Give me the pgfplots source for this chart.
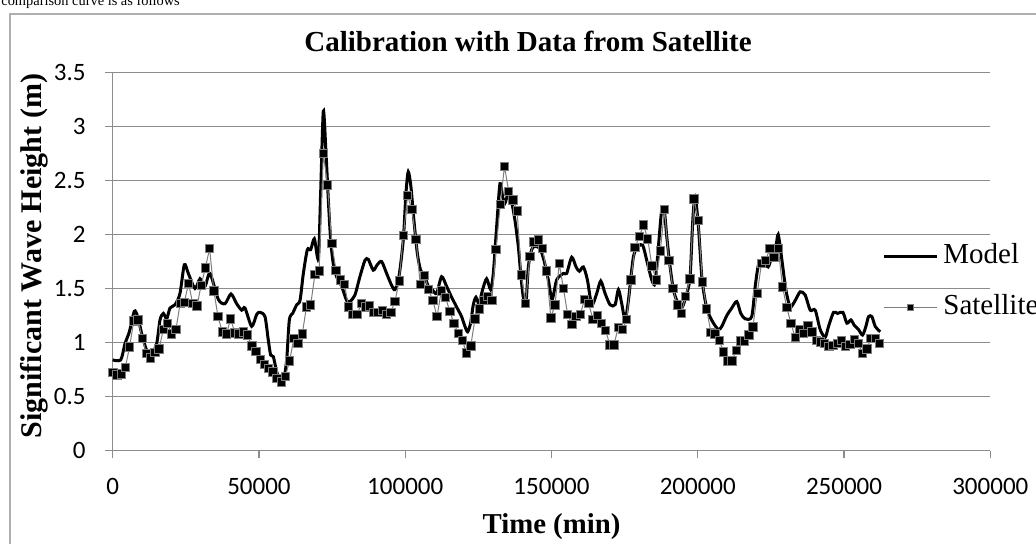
\documentclass[border=0pt]{standalone}
\usepackage{fontspec}
\setmainfont{Liberation Serif}
\newfontfamily\tickfont{Carlito}
\usepackage{pgfplots}
\pgfplotsset{compat=1.18}
\definecolor{gridgray}{RGB}{140,140,140}
\definecolor{framegray}{RGB}{175,175,175}
\definecolor{satgray}{RGB}{125,125,125}

\begin{document}
\begin{tikzpicture}
\path[use as bounding box, clip] (0pt,0pt) rectangle (518pt,271.5pt);
\begin{scope}[x=0.5pt,y=0.5pt]
\draw[framegray, line width=0.75pt] (10,-4) -- (10,529) -- (1044,529);
\node[anchor=base west, inner sep=0pt, font=\fontsize{7.2}{8}\selectfont] at (1,538) {comparison curve is as follows};
\end{scope}
\begin{axis}[
    at={(56.35pt,46.15pt)}, anchor=south west,
    scale only axis, width=438.8pt, height=189.2pt,
    xmin=0, xmax=300000, ymin=0, ymax=3.5,
    xtick={0,50000,100000,150000,200000,250000,300000},
    ytick={0,0.5,1,1.5,2,2.5,3,3.5},
    scaled x ticks=false,
    xticklabel={\pgfmathprintnumber[fixed,precision=0,1000 sep={}]{\tick}},
    /pgf/number format/assume math mode=true,
    axis x line=bottom, axis y line=left,
    axis line style={-, gridgray, line width=0.6pt},
    tick align=outside, major tick length=3.85pt,
    tick style={gridgray, line width=0.6pt},
    ymajorgrids, grid style={gridgray, line width=0.55pt},
    ticklabel style={font=\tickfont\fontsize{12.5}{14}\selectfont},
    xticklabel style={anchor=base, inner sep=0pt, yshift=-18.2pt},
    yticklabel style={anchor=east, inner sep=0pt, xshift=-9.5pt},
    title={Calibration with Data from Satellite},
    title style={at={(0.4732,1.024)}, anchor=base, inner sep=0pt, font=\bfseries\fontsize{14.5}{17}\selectfont},
    xlabel={Time (min)},
    xlabel style={at={(0.5,-0.2175)}, anchor=base, inner sep=0pt, font=\bfseries\fontsize{14.4}{17}\selectfont},
    ylabel={Significant Wave Height (m)},
    ylabel style={at={(-0.0806,0.5145)}, rotate=0, anchor=base, inner sep=0pt, font=\bfseries\fontsize{15}{18}\selectfont},
    clip=false,
    legend cell align=left,
    legend style={at={(0.8766,0.549)}, anchor=north west, draw=none, fill=none,
        inner sep=0pt, row sep=12.5pt, font=\fontsize{14.5}{17}\selectfont,
        nodes={inner sep=0pt, text height=10pt, text depth=3pt},
        /tikz/every odd column/.append style={column sep=2.5pt}},
    legend image code/.code={\draw[mark repeat=2,mark phase=2,#1] plot coordinates {(0pt,0pt) (13.25pt,0pt) (26.5pt,0pt)};},
    legend image post style={mark size=1.7pt},
]
\addplot[black, line width=1.5pt, smooth, tension=0.45] table {
x y
0 0.84
2740 0.84
4200 0.99
5690 1.10
7400 1.29
8540 1.24
9900 1.085
11600 0.93
13320 0.90
15030 0.99
16170 1.21
17310 1.27
18450 1.22
19590 1.32
21300 1.35
23000 1.455
24480 1.72
25850 1.64
28130 1.50
29840 1.59
31540 1.52
33250 1.64
36100 1.40
38380 1.36
40430 1.45
42370 1.36
44080 1.30
45220 1.32
47500 1.15
49210 1.26
50350 1.28
52060 1.24
53200 1.02
54000 0.885
54910 0.87
56050 0.73
57190 0.65
58330 0.64
59470 0.84
60380 1.21
61520 1.27
62890 1.35
64030 1.39
65170 1.64
66540 1.86
67680 1.86
68930 1.96
70300 1.78
71080 2.38
71990 3.14
72870 2.78
73710 2.32
74500 1.95
75400 1.73
76540 1.61
78250 1.52
79960 1.39
81100 1.38
82800 1.44
84510 1.61
86220 1.76
87360 1.77
89070 1.67
90440 1.72
91920 1.75
93630 1.64
95340 1.53
96480 1.49
97850 1.61
99330 1.95
100240 2.38
101030 2.58
101950 2.44
102970 2.13
104110 1.83
105250 1.67
106730 1.61
107870 1.52
109240 1.49
110720 1.455
112430 1.61
114140 1.52
115850 1.42
117560 1.33
119270 1.24
120410 1.15
121320 1.10
122340 1.18
123260 1.35
124170 1.42
125200 1.36
126450 1.49
127820 1.59
129190 1.49
130100 1.64
131240 2.07
132380 2.47
133290 2.35
134090 2.29
135230 2.38
136370 2.30
137510 2.13
138650 1.89
139560 1.61
140360 1.42
141270 1.36
142070 1.70
143210 1.86
144350 1.89
146060 1.87
147430 1.76
148910 1.58
150200 1.40
151770 1.58
154050 1.64
155190 1.64
156900 1.79
158390 1.70
159530 1.66
160900 1.70
162270 1.58
163750 1.35
165460 1.455
166830 1.57
168310 1.455
170020 1.35
171730 1.35
172870 1.49
174010 1.36
175150 1.21
176290 1.39
178000 1.795
179710 1.89
181190 1.90
182560 1.76
184270 1.58
185410 1.55
186550 1.89
187690 2.23
188600 2.21
189400 1.98
190540 1.70
191680 1.49
192820 1.39
194530 1.32
196240 1.455
197380 1.61
198290 2.13
199090 2.35
200230 2.07
201370 1.61
202510 1.39
203650 1.27
205360 1.18
207070 1.12
208210 1.15
209920 1.25
211630 1.32
213340 1.38
214700 1.27
216190 1.22
218440 1.24
219630 1.52
220770 1.72
222360 1.75
224070 1.70
225210 1.79
226690 1.89
227490 2.00
228630 1.79
230110 1.49
231600 1.33
233310 1.39
235010 1.47
236720 1.44
238430 1.30
240140 1.30
241850 1.12
243560 1.05
244700 1.15
246410 1.28
247780 1.27
249600 1.28
250970 1.18
252340 1.21
253480 1.16
254960 1.12
256330 1.07
257470 1.15
258380 1.24
259520 1.24
260660 1.15
262370 1.10
};
\addlegendentry{Model}
\addplot[satgray, line width=0.5pt, mark=square*, mark size=2.1pt,
    mark options={solid, fill=black, draw=satgray, line width=0.4pt}] table {
x y
0 0.725
1440 0.70
2880 0.71
4320 0.77
5760 0.96
7200 1.20
8640 1.21
10080 1.04
11520 0.90
12960 0.86
14400 0.91
15840 0.94
17280 1.12
18720 1.18
20160 1.08
21600 1.12
23040 1.36
24480 1.37
25920 1.55
27360 1.36
28800 1.34
30240 1.53
31680 1.69
33120 1.87
34560 1.48
36000 1.24
37440 1.10
38880 1.08
40320 1.22
41760 1.09
43200 1.08
44640 1.10
46080 1.07
47520 0.97
48960 0.92
50400 0.845
51840 0.80
53280 0.76
54720 0.73
56160 0.67
57600 0.635
59040 0.69
60480 0.83
61920 1.04
63360 0.99
64800 1.08
66240 1.33
67680 1.35
69120 1.63
70560 1.665
72000 2.75
73440 2.46
74880 1.92
76320 1.67
77760 1.58
79200 1.54
80640 1.33
82080 1.26
83520 1.26
84960 1.36
86400 1.33
87840 1.34
89280 1.28
90720 1.28
92160 1.30
93600 1.26
95040 1.28
96480 1.38
97920 1.57
99360 1.99
100800 2.36
102240 2.23
103680 1.955
105120 1.54
106560 1.62
108000 1.49
109440 1.39
110880 1.24
112320 1.48
113760 1.42
115200 1.29
116640 1.18
118080 1.085
119520 1.02
120960 0.905
122400 0.97
123840 1.22
125280 1.31
126720 1.39
128160 1.43
129600 1.39
131040 1.86
132480 2.28
133920 2.63
135360 2.40
136800 2.32
138240 2.22
139680 1.625
141120 1.36
142560 1.795
144000 1.93
145440 1.95
146880 1.87
148320 1.665
149760 1.23
151200 1.35
152640 1.73
154080 1.50
155520 1.26
156960 1.17
158400 1.24
159840 1.26
161280 1.40
162720 1.36
164160 1.215
165600 1.25
167040 1.18
168480 1.115
169920 0.98
171360 0.98
172800 1.14
174240 1.12
175680 1.215
177120 1.58
178560 1.88
180000 1.98
181440 2.09
182880 1.96
184320 1.71
185760 1.58
187200 1.85
188640 2.23
190080 1.76
191520 1.50
192960 1.35
194400 1.27
195840 1.43
197280 1.59
198720 2.33
200160 2.13
201600 1.56
203040 1.31
204480 1.095
205920 1.08
207360 1.02
208800 0.915
210240 0.83
211680 0.83
213120 0.93
214560 1.015
216000 1.015
217440 1.07
218880 1.147
220320 1.455
221760 1.73
223200 1.76
224640 1.87
226080 1.79
227520 1.87
228960 1.517
230400 1.326
231840 1.178
233280 1.05
234720 1.12
236160 1.085
237600 1.16
239040 1.10
240480 1.02
241920 1.005
243360 0.99
244800 0.965
246240 0.975
247680 0.99
249120 1.02
250560 0.965
252000 0.985
253440 1.03
254880 0.99
256320 0.90
257760 0.94
259200 1.04
260640 1.04
262080 0.995
};
\addlegendentry{Satellite}
\end{axis}
\end{tikzpicture}
\end{document}
